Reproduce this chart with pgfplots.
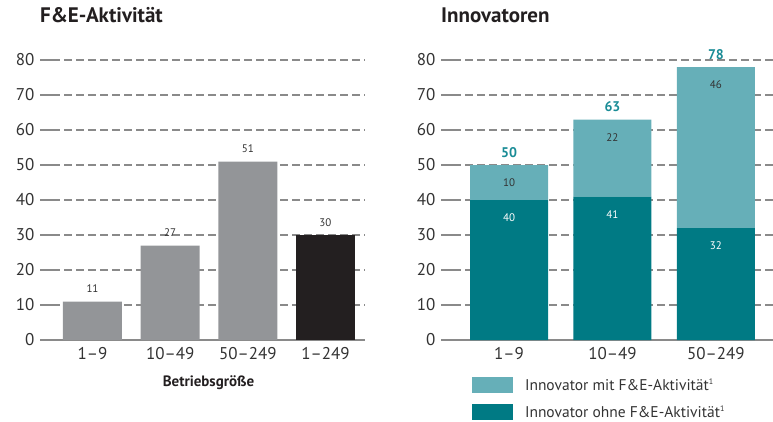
\documentclass[border=0pt]{standalone}
\usepackage{fontspec}
\setmainfont{PT Sans}
\usepackage{pgfplots}
\pgfplotsset{compat=1.18}
\definecolor{gridgray}{HTML}{8A8A8A}
\definecolor{txtgray}{HTML}{333333}
\definecolor{bargray}{HTML}{939598}
\definecolor{barblack}{HTML}{231F20}
\definecolor{tealdark}{HTML}{007A84}
\definecolor{teallight}{HTML}{66AFB8}
\definecolor{tealtext}{HTML}{1A8C96}
\pgfplotstableread{
x y
0 40
1 41
2 32
}\ohne
\pgfplotstableread{
x y
0 10
1 22
2 46
}\mit
\pgfplotstableread{
x y
0 50
1 63
2 78
}\gesamt
\pgfplotsset{
  /pgf/number format/assume math mode=true,
  mystyle/.style={
    scale only axis, height=280pt,
    ymin=0, ymax=80, ytick={0,10,...,80},
    axis x line*=bottom, axis y line*=left,
    x axis line style={draw=gridgray, line width=1.5pt, -},
    y axis line style={draw=none},
    ymajorgrids,
    grid style={gridgray, line width=1.5pt, dash pattern=on 8pt off 4pt},
    major x tick style={draw=none},
    major y tick style={gridgray, line width=1.5pt, solid},
    ytick align=inside, major tick length=18pt,
    xtick={0,1,2,3},
    tick label style={font=\fontsize{17}{17}\selectfont, text=txtgray},
    xticklabel style={yshift=-4pt},
    yticklabel style={xshift=-2pt},
    title style={at={(0,1)}, anchor=base west, yshift=32pt, inner sep=0pt,
      font=\bfseries\fontsize{21}{21}\selectfont, text=barblack},
    clip=false,
  },
  seglabel/.style={nodes near coords,
    visualization depends on={\thisrow{y} \as \segval},
    every node near coord/.append style={anchor=center,
      yshift={(\segval*1.75-18)*1pt},
      font=\fontsize{11}{11}\selectfont}},
}
\begin{document}
\begin{tikzpicture}
\useasboundingbox (0pt,0pt) rectangle (773pt,421pt);
\begin{axis}[mystyle, at={(40pt,81pt)}, anchor=south west, width=325pt,
  xmin=-0.676, xmax=3.509,
  xticklabels={1--9,10--49,50--249,1--249},
  xlabel={Betriebsgröße},
  xlabel style={font=\bfseries\fontsize{15}{15}\selectfont, text=barblack, yshift=-9pt, xshift=6pt},
  title={F\&E-Aktivität},
  nodes near coords,
  every node near coord/.append style={anchor=south, yshift=5pt,
    font=\fontsize{11}{11}\selectfont, text=txtgray},
]
\addplot[ybar, bar width=59pt, bar shift=0pt, fill=bargray, draw=none]
  coordinates {(0,11) (1,27) (2,51)};
\addplot[ybar, bar width=59pt, bar shift=0pt, fill=barblack, draw=none]
  coordinates {(3,30)};
\end{axis}
\begin{axis}[mystyle, at={(441pt,81pt)}, anchor=south west, width=332pt,
  xmin=-0.657, xmax=2.551,
  xticklabels={1--9,10--49,50--249},
  title={Innovatoren},
  ybar stacked, bar width=78pt,
  reverse legend,
  legend style={draw=none, fill=none, inner sep=0pt, outer sep=0pt,
    at={(0.0934,-0.132)}, anchor=north west, row sep=11pt,
    font=\fontsize{15.5}{15.5}\selectfont, text=txtgray,
    nodes={inner sep=0pt},
    /tikz/every odd column/.append style={column sep=12pt}},
  legend cell align=left,
  legend image code/.code={\fill[#1, draw=none] (0pt,-8pt) rectangle (41pt,8pt);},
]
\addplot[fill=tealdark, draw=none, seglabel,
  every node near coord/.append style={text=white}]
  table[x=x, y=y] {\ohne};
\addlegendentry{Innovator ohne F\&E-Aktivität{\fontsize{8}{8}\selectfont\raisebox{6pt}{1}}}
\addplot[fill=teallight, draw=none, seglabel,
  every node near coord/.append style={text=txtgray}]
  table[x=x, y=y] {\mit};
\addlegendentry{Innovator mit F\&E-Aktivität{\fontsize{8}{8}\selectfont\raisebox{6pt}{1}}}
\end{axis}
\begin{axis}[scale only axis, at={(441pt,81pt)}, anchor=south west,
  width=332pt, height=280pt, ymin=0, ymax=80, xmin=-0.657, xmax=2.551,
  hide axis, clip=false]
\addplot[ybar, bar width=78pt, bar shift=0pt, draw=none, fill=none,
  nodes near coords,
  every node near coord/.append style={anchor=south, yshift=4pt,
    font=\bfseries\fontsize{14}{14}\selectfont, text=tealtext}]
  table[x=x, y=y] {\gesamt};
\end{axis}
\end{tikzpicture}
\end{document}
